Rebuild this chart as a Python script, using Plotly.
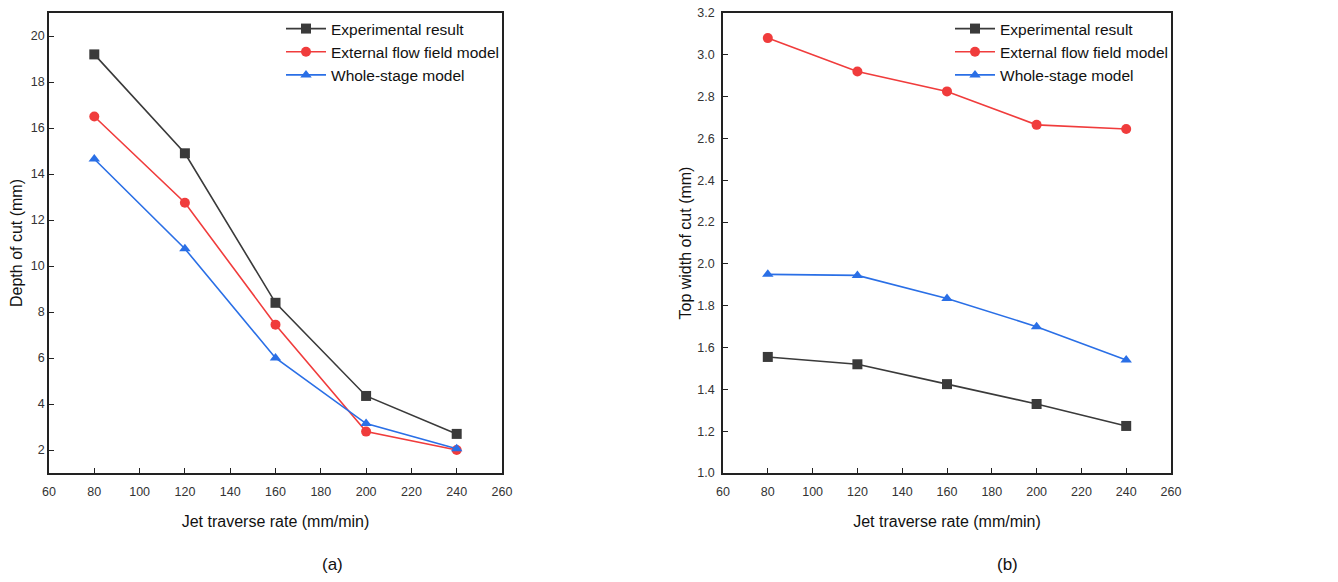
import plotly.graph_objects as go

rate = [80, 120, 160, 200, 240]

depth_exp = [19.2, 14.9, 8.4, 4.35, 2.7]
depth_ext = [16.5, 12.75, 7.45, 2.8, 2.0]
depth_whole = [14.65, 10.75, 6.0, 3.15, 2.05]

width_exp = [1.555, 1.52, 1.425, 1.33, 1.225]
width_ext = [3.08, 2.92, 2.825, 2.665, 2.645]
width_whole = [1.95, 1.945, 1.835, 1.70, 1.54]

names = ["Experimental result", "External flow field model", "Whole-stage model"]
colors = ["#3a3a3a", "#f03c3c", "#2a6fe6"]
symbols = ["square", "circle", "triangle-up"]

FONT = "Liberation Sans, Arial, sans-serif"

fig = go.Figure()

for i, ys in enumerate([depth_exp, depth_ext, depth_whole]):
    fig.add_trace(go.Scatter(
        x=rate, y=ys, name=names[i], mode="lines+markers",
        line=dict(color=colors[i], width=1.6),
        marker=dict(symbol=symbols[i], size=10, color=colors[i]),
        xaxis="x", yaxis="y", legend="legend",
    ))

for i, ys in enumerate([width_exp, width_ext, width_whole]):
    fig.add_trace(go.Scatter(
        x=rate, y=ys, name=names[i], mode="lines+markers",
        line=dict(color=colors[i], width=1.6),
        marker=dict(symbol=symbols[i], size=10, color=colors[i]),
        xaxis="x2", yaxis="y2", legend="legend2",
    ))

axis_common = dict(
    showline=True, linecolor="#222", linewidth=1.5, mirror=True,
    ticks="inside", ticklen=5, tickwidth=1.2, tickcolor="#222",
    showgrid=False, zeroline=False, automargin=False,
    tickfont=dict(family=FONT, size=12.5, color="#333"),
    title_font=dict(family=FONT, size=16, color="#111"),
)

dom_y = [1 - 473 / 582, 1 - 13 / 582]
xticks = [60, 80, 100, 120, 140, 160, 180, 200, 220, 240, 260]

fig.update_layout(
    width=1338, height=582,
    margin=dict(l=0, r=0, t=0, b=0, autoexpand=False),
    paper_bgcolor="white", plot_bgcolor="white",
    font=dict(family=FONT),
    xaxis=dict(axis_common, domain=[49 / 1338, 502 / 1338], range=[60, 260],
               tickvals=xticks, ticklabelstandoff=6,
               title=dict(text="Jet traverse rate (mm/min)", standoff=18), anchor="y"),
    yaxis=dict(axis_common, domain=dom_y, range=[1, 21],
               tickvals=[2, 4, 6, 8, 10, 12, 14, 16, 18, 20],
               title=dict(text="Depth of cut (mm)", standoff=4), anchor="x"),
    xaxis2=dict(axis_common, domain=[723 / 1338, 1171 / 1338], range=[60, 260],
                tickvals=xticks, ticklabelstandoff=6,
                title=dict(text="Jet traverse rate (mm/min)", standoff=18), anchor="y2"),
    yaxis2=dict(axis_common, domain=dom_y, range=[1.0, 3.2],
                tickvals=[1.0, 1.2, 1.4, 1.6, 1.8, 2.0, 2.2, 2.4, 2.6, 2.8, 3.0, 3.2],
                tickformat=".1f", ticklabelstandoff=4,
                title=dict(text="Top width of cut (mm)", standoff=2), anchor="x2"),
    legend=dict(x=504 / 1338, xanchor="right", y=1 - 12 / 582, yanchor="top",
                bgcolor="rgba(0,0,0,0)", font=dict(family=FONT, size=15.5, color="#111"),
                tracegroupgap=0, itemwidth=40),
    legend2=dict(x=1173 / 1338, xanchor="right", y=1 - 12 / 582, yanchor="top",
                 bgcolor="rgba(0,0,0,0)", font=dict(family=FONT, size=15.5, color="#111"),
                 tracegroupgap=0, itemwidth=40),
    annotations=[
        dict(text="(a)", x=332 / 1338, y=1 - 564 / 582, xref="paper", yref="paper",
             xanchor="center", yanchor="middle",
             showarrow=False, font=dict(family=FONT, size=17, color="#111")),
        dict(text="(b)", x=1008 / 1338, y=1 - 564 / 582, xref="paper", yref="paper",
             xanchor="center", yanchor="middle",
             showarrow=False, font=dict(family=FONT, size=17, color="#111")),
    ],
)

fig.write_html("out.html")
